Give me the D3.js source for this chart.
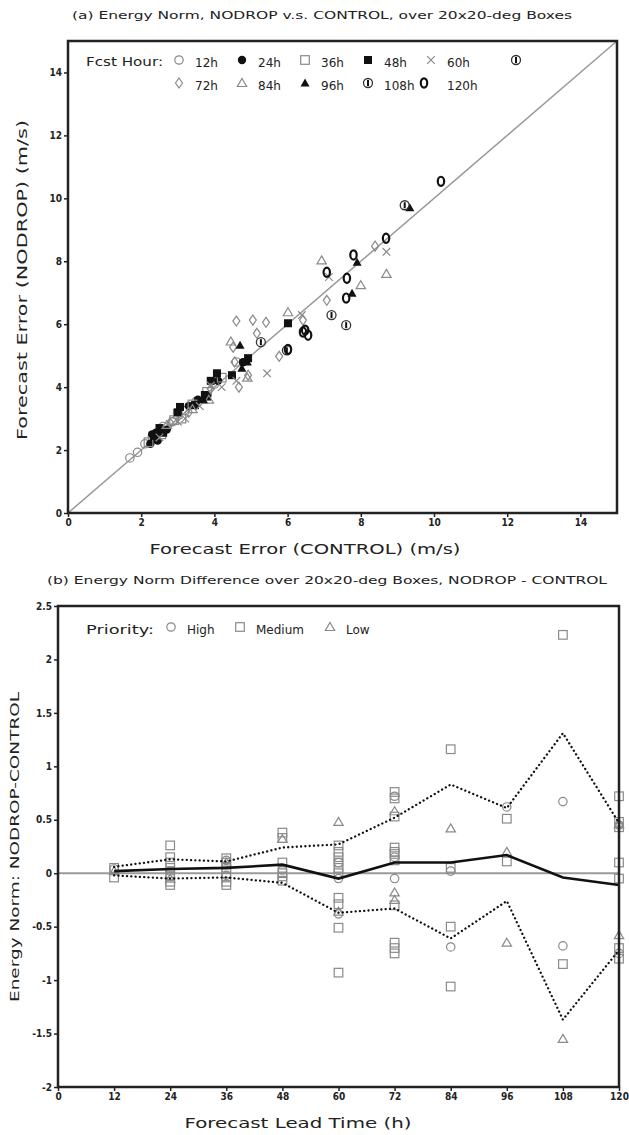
<!DOCTYPE html>
<html>
<head>
<meta charset="utf-8">
<script src="https://cdn.jsdelivr.net/npm/d3@7"></script>
<style>
body{margin:0;background:#fff}
text{font-family:"DejaVu Sans",sans-serif;fill:#222}
.tick text{font-size:10px;font-weight:bold;font-family:"DejaVu Sans Condensed","DejaVu Sans",sans-serif;fill:#222}
.tick line{stroke:#222;stroke-width:1.5}
</style>
</head>
<body>
<svg id="fig" width="629" height="1135"></svg>
<script>
// ---- panel (a): [CONTROL, NODROP] forecast error per forecast hour ----
const e12 = [[1.69,1.75],[1.9,1.93],[2.1,2.2],[2.3,2.4],[2.6,2.75],[2.85,2.9],[3.2,3.25],[3.5,3.55],[4.0,4.1],[4.6,4.8]];
const e24 = [[2.25,2.2],[2.35,2.35],[2.45,2.3],[2.3,2.5],[2.4,2.55],[2.5,2.6],[2.7,2.65],[3.3,3.4],[3.55,3.6],[4.1,4.2],[4.78,4.79]];
const e36 = [[2.2,2.25],[2.55,2.5],[2.9,2.95],[3.0,3.15],[3.1,3.0],[3.4,3.45],[3.8,3.85],[4.2,4.3]];
const e48 = [[2.35,2.45],[2.5,2.7],[2.6,2.55],[3.0,3.2],[3.06,3.37],[3.47,3.43],[3.74,3.75],[3.8,3.7],[3.9,4.2],[4.07,4.44],[4.48,4.38],[4.92,4.92],[6.01,6.03]];
const e60 = [[2.5,2.4],[3.0,2.9],[3.2,3.0],[3.6,3.4],[3.9,4.05],[4.2,4.0],[4.6,4.2],[5.44,4.44],[6.39,6.29],[7.13,7.5],[8.7,8.3]];
const e72 = [[2.8,2.85],[3.3,3.2],[3.9,3.95],[4.51,5.27],[4.6,6.1],[5.05,6.13],[4.67,4.0],[4.92,4.38],[4.55,4.8],[5.16,5.71],[5.41,6.06],[5.77,4.98],[6.42,6.13],[7.07,6.76],[8.39,8.48]];
const e84 = [[2.7,2.8],[3.4,3.3],[3.85,3.6],[4.45,5.45],[4.9,4.3],[6.01,6.38],[6.93,8.03],[8.0,7.24],[8.7,7.6]];
const e96 = [[3.7,3.6],[4.7,5.33],[4.75,4.6],[4.9,4.8],[7.76,6.98],[7.9,7.97],[9.34,9.7]];
const e108 = [[5.27,5.43],[5.98,5.17],[7.2,6.29],[7.6,5.97],[9.2,9.78]];
const e120 = [[6.01,5.2],[6.42,5.75],[6.48,5.81],[6.56,5.65],[7.07,7.65],[7.62,7.46],[7.6,6.83],[7.8,8.2],[8.69,8.73],[10.19,10.54]];
const hourLabels = ["12h","24h","36h","48h","60h","72h","84h","96h","108h","120h"];
const hourMarks = ["circle","dot","square","block","cross","diamond","tri","ftri","cbar","oval"];
const hourData = [e12,e24,e36,e48,e60,e72,e84,e96,e108,e120];
const errTicks = [0,2,4,6,8,10,12,14];

// ---- panel (b): NODROP - CONTROL by lead time ----
const leadTimes = [12,24,36,48,60,72,84,96,108,120];
const meanDiff = [0.02,0.04,0.05,0.08,-0.05,0.1,0.1,0.17,-0.04,-0.11];
const upperDiff = [0.06,0.13,0.11,0.24,0.27,0.52,0.83,0.61,1.31,0.47];
const lowerDiff = [-0.02,-0.05,-0.04,-0.09,-0.37,-0.33,-0.61,-0.26,-1.37,-0.72];
const highPts = [[0.04],[0.02,-0.03],[0.12,-0.02],[0.03],[0.1,-0.05,-0.38],[0.72,0.15,-0.05],[0.02,-0.69],[0.62],[0.67,-0.68],[0.45,-0.75]];
const mediumPts = [[0.05,-0.04],[0.26,0.15,0.1,0.05,-0.02,-0.08,-0.11],[0.14,0.1,0.05,0.0,-0.04,-0.08,-0.11],[0.38,0.33,0.1,0.0,-0.03,-0.07],
  [0.26,0.2,0.15,0.1,0.05,0.0,-0.23,-0.29,-0.51,-0.93],[0.76,0.7,0.53,0.24,0.2,0.18,0.12,-0.3,-0.65,-0.7,-0.75],[1.16,0.05,-0.5,-1.06],[0.51,0.11],[2.23,-0.85],[0.72,0.48,0.43,0.1,-0.05,-0.7,-0.8]];
const lowPts = [[0.02],[-0.05],[0.1],[0.32],[0.48,-0.36],[0.58,-0.18,-0.25],[0.42],[0.2,-0.65],[-1.55],[0.46,-0.58]];
const priorityLabels = ["High","Medium","Low"];
const leadTicks = [0,12,24,36,48,60,72,84,96,108,120];
const diffTicks = [-2,-1.5,-1,-0.5,0,0.5,1,1.5,2,2.5];

const svg = d3.select("#fig");
const GRAY = "#8a8a8a";

// 画各种符号
function mark(g, type, x, y, col){
  const c = col || GRAY;
  switch(type){
    case "circle":
      g.append("circle").attr("cx",x).attr("cy",y).attr("r",4.2).attr("fill","none").attr("stroke",c).attr("stroke-width",1.2); break;
    case "dot":
      g.append("circle").attr("cx",x).attr("cy",y).attr("r",4.2).attr("fill","#111"); break;
    case "square":
      g.append("rect").attr("x",x-4.3).attr("y",y-4.3).attr("width",8.6).attr("height",8.6).attr("fill","none").attr("stroke",c).attr("stroke-width",1.2); break;
    case "block":
      g.append("rect").attr("x",x-4).attr("y",y-4).attr("width",8).attr("height",8).attr("fill","#111"); break;
    case "cross":
      g.append("path").attr("d",`M${x-3.8},${y-3.8}L${x+3.8},${y+3.8}M${x-3.8},${y+3.8}L${x+3.8},${y-3.8}`).attr("stroke",c).attr("stroke-width",1.2); break;
    case "diamond":
      g.append("path").attr("d",`M${x},${y-5}L${x+3.5},${y}L${x},${y+5}L${x-3.5},${y}Z`).attr("fill","none").attr("stroke",c).attr("stroke-width",1.2); break;
    case "tri":
      g.append("path").attr("d",`M${x},${y-4.5}L${x+4.7},${y+3.5}L${x-4.7},${y+3.5}Z`).attr("fill","none").attr("stroke",c).attr("stroke-width",1.2); break;
    case "ftri":
      g.append("path").attr("d",`M${x},${y-4.5}L${x+4.5},${y+3.5}L${x-4.5},${y+3.5}Z`).attr("fill","#111"); break;
    case "cbar":
      g.append("circle").attr("cx",x).attr("cy",y).attr("r",4.5).attr("fill","none").attr("stroke","#333").attr("stroke-width",1.3);
      g.append("line").attr("x1",x).attr("x2",x).attr("y1",y-3).attr("y2",y+3).attr("stroke","#111").attr("stroke-width",2); break;
    case "oval":
      g.append("ellipse").attr("cx",x).attr("cy",y).attr("rx",3.2).attr("ry",4.6).attr("fill","none").attr("stroke","#111").attr("stroke-width",2.2); break;
  }
}

// ======== panel (a) ========
const xA = d3.scaleLinear().domain([0,15]).range([68,617]);
const yA = d3.scaleLinear().domain([0,15]).range([513,41]);

svg.append("text").attr("x",72).attr("y",19).attr("font-size",11).attr("textLength",500).attr("lengthAdjust","spacingAndGlyphs")
  .text("(a) Energy Norm, NODROP v.s. CONTROL, over 20x20-deg Boxes");

svg.append("line").attr("x1",xA(0)).attr("y1",yA(0)).attr("x2",xA(15)).attr("y2",yA(15)).attr("stroke","#999").attr("stroke-width",1.5);

const ptsA = svg.append("g");
hourData.forEach((arr,i)=>{
  arr.forEach(d=> mark(ptsA, hourMarks[i], xA(d[0]), yA(d[1])));
});

svg.append("g").attr("transform",`translate(0,${yA(0)})`)
  .call(d3.axisBottom(xA).tickValues(errTicks).tickSize(4).tickPadding(2))
  .call(g=>g.select(".domain").remove());
svg.append("g").attr("transform",`translate(${xA(0)},0)`)
  .call(d3.axisLeft(yA).tickValues(errTicks).tickSize(4).tickPadding(2))
  .call(g=>g.select(".domain").remove());

svg.append("rect").attr("x",xA(0)).attr("y",yA(15)).attr("width",xA(15)-xA(0)).attr("height",yA(0)-yA(15))
  .attr("fill","none").attr("stroke","#222").attr("stroke-width",2.5);

// legend (a)
const legA = svg.append("g");
legA.append("text").attr("x",86).attr("y",66).attr("font-size",12).attr("textLength",77).attr("lengthAdjust","spacingAndGlyphs").text("Fcst Hour:");
hourLabels.forEach((lab,i)=>{
  const row = Math.floor(i/5), col = i%5;
  const sx = (i===9) ? 424 : 179 + col*63;
  const sy = 60 + row*23;
  mark(legA, hourMarks[i], sx, sy);
  legA.append("text").attr("x",179 + col*63 + 16).attr("y",sy+7).attr("font-size",12).text(lab);
});
mark(legA, "cbar", 516, 60);

svg.append("text").attr("x",305).attr("y",554).attr("text-anchor","middle").attr("font-size",14)
  .attr("textLength",311).attr("lengthAdjust","spacingAndGlyphs").text("Forecast Error (CONTROL) (m/s)");
svg.append("text").attr("transform","translate(27,280) rotate(-90)").attr("text-anchor","middle").attr("font-size",14)
  .attr("textLength",320).attr("lengthAdjust","spacingAndGlyphs").text("Forecast Error (NODROP) (m/s)");

// ======== panel (b) ========
const xB = d3.scaleLinear().domain([0,120]).range([58,619]);
const yB = d3.scaleLinear().domain([-2,2.5]).range([1087,606]);

svg.append("text").attr("x",47).attr("y",584).attr("font-size",11).attr("textLength",560).attr("lengthAdjust","spacingAndGlyphs")
  .text("(b) Energy Norm Difference over 20x20-deg Boxes, NODROP - CONTROL");

svg.append("line").attr("x1",xB(0)).attr("x2",xB(120)).attr("y1",yB(0)).attr("y2",yB(0)).attr("stroke","#9a9a9a").attr("stroke-width",2);

const ptsB = svg.append("g");
[[highPts,"circle"],[mediumPts,"square"],[lowPts,"tri"]].forEach(([set,type])=>{
  set.forEach((vals,i)=> vals.forEach(v=> mark(ptsB, type, xB(leadTimes[i]), yB(v))));
});

const lineB = d3.line().x((d,i)=>xB(leadTimes[i])).y(d=>yB(d));
svg.append("path").attr("d",lineB(upperDiff)).attr("fill","none").attr("stroke","#111").attr("stroke-width",2.3)
  .attr("stroke-dasharray","0.1,4.2").attr("stroke-linecap","round");
svg.append("path").attr("d",lineB(lowerDiff)).attr("fill","none").attr("stroke","#111").attr("stroke-width",2.3)
  .attr("stroke-dasharray","0.1,4.2").attr("stroke-linecap","round");
svg.append("path").attr("d",lineB(meanDiff)).attr("fill","none").attr("stroke","#111").attr("stroke-width",2.6);

svg.append("g").attr("transform",`translate(0,${yB(-2)})`)
  .call(d3.axisBottom(xB).tickValues(leadTicks).tickSize(4).tickPadding(2))
  .call(g=>g.select(".domain").remove());
svg.append("g").attr("transform",`translate(${xB(0)},0)`)
  .call(d3.axisLeft(yB).tickValues(diffTicks).tickSize(4).tickPadding(2).tickFormat(d=>String(d)))
  .call(g=>g.select(".domain").remove());

svg.append("rect").attr("x",xB(0)).attr("y",yB(2.5)).attr("width",xB(120)-xB(0)).attr("height",yB(-2)-yB(2.5))
  .attr("fill","none").attr("stroke","#222").attr("stroke-width",2.5);

// legend (b)
const legB = svg.append("g");
legB.append("text").attr("x",86).attr("y",634).attr("font-size",12).attr("textLength",68).attr("lengthAdjust","spacingAndGlyphs").text("Priority:");
const legBx = [171,240,330];
["circle","square","tri"].forEach((t,i)=>{
  mark(legB, t, legBx[i], 627);
  legB.append("text").attr("x",legBx[i]+16).attr("y",634).attr("font-size",12).text(priorityLabels[i]);
});

svg.append("text").attr("x",298).attr("y",1128).attr("text-anchor","middle").attr("font-size",14)
  .attr("textLength",227).attr("lengthAdjust","spacingAndGlyphs").text("Forecast Lead Time (h)");
svg.append("text").attr("transform","translate(19,847) rotate(-90)").attr("text-anchor","middle").attr("font-size",13)
  .attr("textLength",310).attr("lengthAdjust","spacingAndGlyphs").text("Energy Norm: NODROP-CONTROL");
</script>
</body>
</html>
